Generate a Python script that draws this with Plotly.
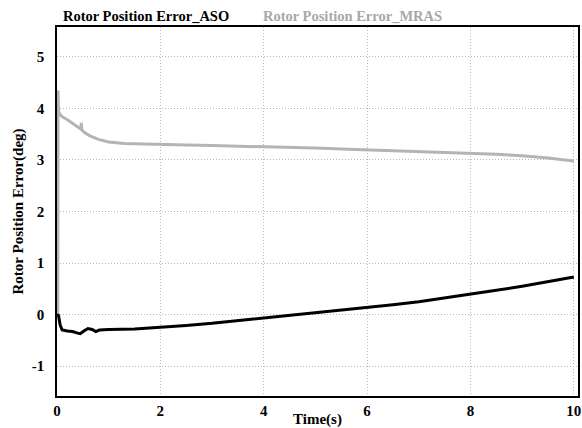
import plotly.graph_objects as go

t_mras = [0.0, 0.015, 0.02, 0.03, 0.06, 0.1, 0.2, 0.3, 0.4, 0.46, 0.47, 0.48, 0.55, 0.65, 0.8, 1.0, 1.3, 1.6, 2.0, 2.5, 3.0, 3.5, 4.0, 4.5, 5.0, 5.5, 6.0, 6.5, 7.0, 7.5, 8.0, 8.5, 9.0, 9.5, 10.0]
e_mras = [0.0, 0.0, 4.35, 3.95, 3.88, 3.84, 3.78, 3.71, 3.65, 3.6, 3.72, 3.58, 3.52, 3.46, 3.40, 3.35, 3.32, 3.31, 3.30, 3.29, 3.28, 3.27, 3.26, 3.245, 3.23, 3.215, 3.20, 3.185, 3.17, 3.15, 3.13, 3.11, 3.08, 3.04, 2.98]

t_aso = [0.0, 0.03, 0.06, 0.1, 0.2, 0.3, 0.4, 0.45, 0.52, 0.6, 0.68, 0.75, 0.82, 0.9, 1.0, 1.5, 2.0, 2.5, 3.0, 3.5, 4.0, 4.5, 5.0, 5.5, 6.0, 6.5, 7.0, 7.5, 8.0, 8.5, 9.0, 9.5, 10.0]
e_aso = [0.0, -0.02, -0.2, -0.3, -0.32, -0.33, -0.36, -0.37, -0.32, -0.27, -0.29, -0.33, -0.3, -0.3, -0.29, -0.28, -0.25, -0.21, -0.17, -0.12, -0.07, -0.02, 0.03, 0.08, 0.14, 0.19, 0.25, 0.32, 0.39, 0.47, 0.55, 0.64, 0.73]

x_ticks = [0, 2, 4, 6, 8, 10]
y_ticks = [-1, 0, 1, 2, 3, 4, 5]

font_fam = "Liberation Serif"

fig = go.Figure()
fig.add_trace(go.Scatter(x=t_mras, y=e_mras, mode="lines", line=dict(color="#b4b4b4", width=3), name="Rotor Position Error_MRAS"))
fig.add_trace(go.Scatter(x=t_aso, y=e_aso, mode="lines", line=dict(color="#000000", width=3), name="Rotor Position Error_ASO"))

fig.update_layout(
    width=582, height=428,
    margin=dict(l=57, r=4, t=27, b=32),
    plot_bgcolor="white", paper_bgcolor="white",
    showlegend=False,
    font=dict(family=font_fam, size=14, color="black"),
)
fig.update_xaxes(range=[0, 10.08], tickvals=x_ticks, ticktext=[str(v) for v in x_ticks],
                 showgrid=True, gridcolor="#b8b8b8", griddash="1px,2px", gridwidth=1,
                 showline=True, linecolor="black", linewidth=1.5, mirror=True, zeroline=False,
                 ticks="", automargin=False,
                 tickfont=dict(family=font_fam, size=15, color="black", weight="bold"))
fig.update_yaxes(range=[-1.58, 5.58], tickvals=y_ticks, ticktext=[str(v) for v in y_ticks],
                 showgrid=True, gridcolor="#b8b8b8", griddash="1px,2px", gridwidth=1,
                 showline=True, linecolor="black", linewidth=1.5, mirror=True, zeroline=False,
                 ticks="", automargin=False, ticklabelstandoff=8,
                 tickfont=dict(family=font_fam, size=15, color="black", weight="bold"))

# axis titles
fig.add_annotation(x=0.5, y=0, xref="paper", yref="paper", yshift=-23, text="<b>Time(s)</b>",
                   showarrow=False, xanchor="center", yanchor="middle",
                   font=dict(family=font_fam, size=15, color="black"))
fig.add_annotation(x=0, y=0.5, xref="paper", yref="paper", xshift=-39, text="<b>Rotor Position Error(deg)</b>",
                   showarrow=False, xanchor="center", yanchor="middle", textangle=-90,
                   font=dict(family=font_fam, size=15, color="black"))

# legend-like labels
fig.add_annotation(x=(61 - 57) / 521, y=1, xref="paper", yref="paper", yshift=11, text="<b>Rotor Position Error_ASO</b>",
                   showarrow=False, xanchor="left", yanchor="middle", font=dict(family=font_fam, size=14.5, color="black"))
fig.add_annotation(x=(261 - 57) / 521, y=1, xref="paper", yref="paper", yshift=11, text="<b>Rotor Position Error_MRAS</b>",
                   showarrow=False, xanchor="left", yanchor="middle", font=dict(family=font_fam, size=14.5, color="#a8a8a8"))

fig.write_html("out.html", config={"displayModeBar": False},
               post_script="document.body.style.margin='0';document.body.style.overflow='hidden';")
